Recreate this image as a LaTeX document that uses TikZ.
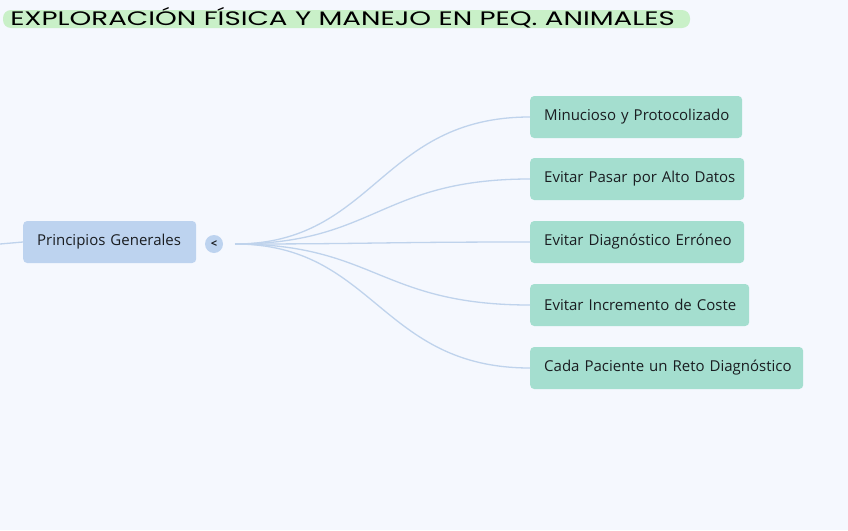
\documentclass[tikz,border=0pt]{standalone}
\usepackage{fontspec}
\setmainfont{Open Sans}
\newfontfamily\titlefont{Poppins}
\definecolor{bg}{HTML}{F5F8FE}
\definecolor{hl}{HTML}{C9F0C8}
\definecolor{rootfill}{HTML}{BDD3EF}
\definecolor{childfill}{HTML}{A4DECF}
\definecolor{linkc}{HTML}{BFD3EC}
\definecolor{txt}{HTML}{1A1D21}
\begin{document}
\begin{tikzpicture}[x=1pt,y=-1pt,
  boxbase/.style={draw=none,rounded corners=4pt,minimum height=42pt,inner xsep=14pt,inner ysep=0pt,anchor=west,align=left,text=txt,font=\fontsize{15}{17}\selectfont},
  rootbox/.style={boxbase,fill=rootfill},
  childbox/.style={boxbase,fill=childfill},
  link/.style={draw=linkc,line width=1.3pt}]
\fill[bg] (0,0) rectangle (848,530);
\useasboundingbox (0,0) rectangle (848,530);
% title
\fill[hl,rounded corners=8pt] (3,10) rectangle (690,28);
\node[anchor=west,text=black,inner sep=0pt,xscale=1.42,transform shape,font=\titlefont\fontsize{19.5}{21}\selectfont] (title) at (10,18) {EXPLORACIÓN FÍSICA Y MANEJO EN PEQ. ANIMALES};
% root
\node[rootbox,text width=145pt] (root) at (23,242) {\mbox{Principios Generales}};
\coordinate (inc) at (0,244);
\draw[link] (inc) -- (root.west);
\node[circle,fill=rootfill,minimum size=18pt,inner sep=0pt,text=txt,font=\fontsize{11}{12}\selectfont\bfseries] (tog) at (214,244) {<};
\coordinate (hub) at (235,244);
% children
\node[childbox,text width=184pt] (c1) at (530,117) {\mbox{Minucioso y Protocolizado}};
\node[childbox,text width=186pt] (c2) at (530,179) {\mbox{Evitar Pasar por Alto Datos}};
\node[childbox,text width=186pt] (c3) at (530,242) {\mbox{Evitar Diagnóstico Erróneo}};
\node[childbox,text width=191pt] (c4) at (530,305) {\mbox{Evitar Incremento de Coste}};
\node[childbox,text width=245pt] (c5) at (530,368) {\mbox{Cada Paciente un Reto Diagnóstico}};
\foreach \c in {c1,c2,c3,c4,c5}{
  \draw[link] (hub) .. controls +(140,0) and +(-150,0) .. (\c.west);
}
\end{tikzpicture}
\end{document}
